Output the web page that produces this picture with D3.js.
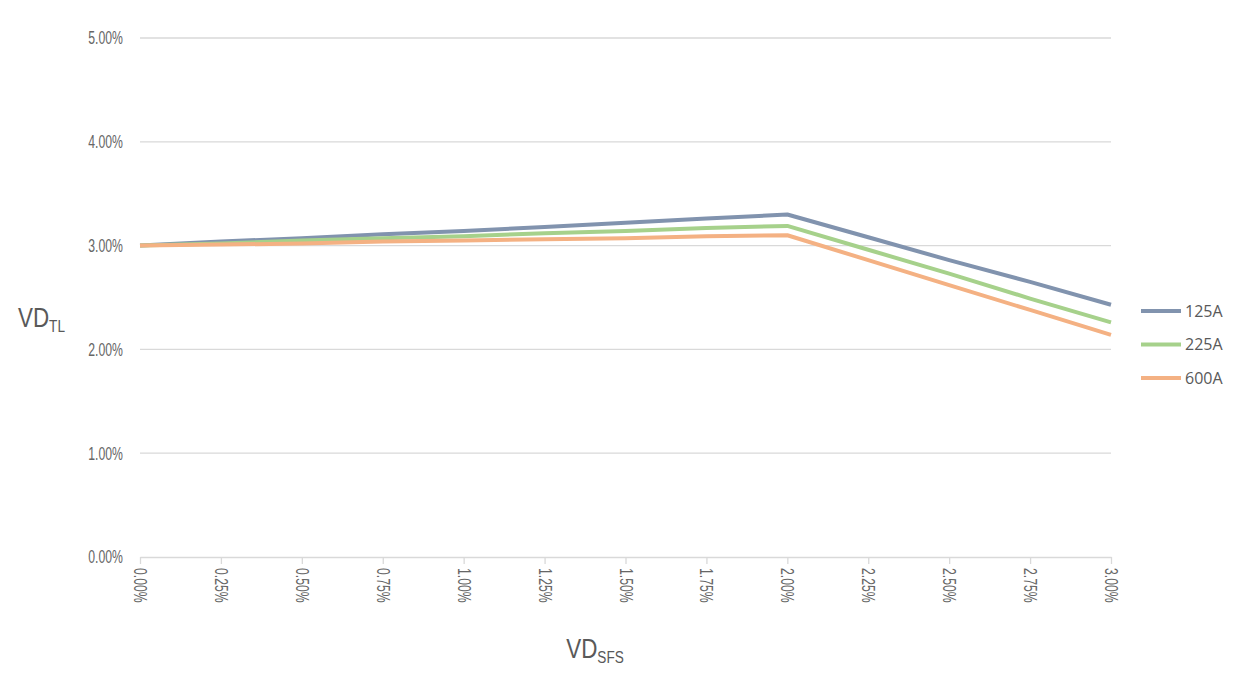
<!DOCTYPE html>
<html><head><meta charset="utf-8">
<script src="https://cdn.jsdelivr.net/npm/d3@7"></script>
<style>body{margin:0;background:#fff}</style>
</head><body>
<svg id="c" width="1239" height="679"></svg>
<script>
const xValues = [0, 0.25, 0.5, 0.75, 1.0, 1.25, 1.5, 1.75, 2.0, 2.25, 2.5, 2.75, 3.0];
const s125 = [3.00, 3.04, 3.07, 3.11, 3.14, 3.18, 3.22, 3.26, 3.30, 3.08, 2.86, 2.65, 2.43];
const s225 = [3.00, 3.02, 3.05, 3.07, 3.09, 3.12, 3.14, 3.17, 3.19, 2.96, 2.73, 2.49, 2.26];
const s600 = [3.00, 3.01, 3.02, 3.04, 3.05, 3.06, 3.07, 3.09, 3.10, 2.86, 2.62, 2.38, 2.14];
const seriesNames = ["125A", "225A", "600A"];
const yTicks = [0, 1, 2, 3, 4, 5];
const xTicks = [0, 0.25, 0.5, 0.75, 1.0, 1.25, 1.5, 1.75, 2.0, 2.25, 2.5, 2.75, 3.0];

const colors = ["#8193ae", "#a6d18b", "#f4b183"];
const series = [s125, s225, s600];
const svg = d3.select("#c");
const x = d3.scaleLinear().domain([0, 3]).range([140, 1111]);
const y = d3.scaleLinear().domain([0, 5]).range([557, 38]);
const tickFont = "'Liberation Sans','Arial',sans-serif";
const narrow = 0.68;

// gridlines
svg.append("g").selectAll("line").data(yTicks.filter(d => d > 0)).join("line")
  .attr("x1", 140).attr("x2", 1111).attr("y1", d => y(d)).attr("y2", d => y(d))
  .attr("stroke", "#d9d9d9").attr("stroke-width", 1.3);

// y labels
svg.append("g").selectAll("text").data(yTicks).join("text")
  .attr("transform", d => `translate(123,${y(d)}) scale(${narrow},1)`)
  .attr("dy", "0.36em").attr("text-anchor", "end")
  .attr("font-family", tickFont).attr("font-size", 18).attr("fill", "#666666")
  .text(d => d.toFixed(2) + "%");

// x axis
const xa = svg.append("g").attr("transform", `translate(0,${y(0)})`)
  .call(d3.axisBottom(x).tickValues(xTicks).tickSize(7).tickSizeOuter(0).tickFormat(d => d.toFixed(2) + "%"));
xa.select(".domain").attr("stroke", "#d9d9d9").attr("stroke-width", 1.3);
xa.selectAll(".tick line").attr("stroke", "#d9d9d9").attr("stroke-width", 1.3);
xa.selectAll(".tick text")
  .attr("font-family", tickFont).attr("font-size", 18).attr("fill", "#666666")
  .attr("text-anchor", "start").attr("transform", `rotate(90) scale(${narrow},1)`)
  .attr("x", 11 / narrow).attr("y", 0).attr("dy", "0.36em");

// lines
const line = d3.line().x((d, i) => x(xValues[i])).y(d => y(d));
series.forEach((s, k) => {
  svg.append("path").datum(s).attr("d", line).attr("fill", "none")
    .attr("stroke", colors[k]).attr("stroke-width", 4).attr("stroke-linejoin", "round").attr("stroke-linecap", "butt");
});

// legend
const lg = svg.append("g");
seriesNames.forEach((n, k) => {
  const yy = 311 + k * 33.5;
  lg.append("line").attr("x1", 1141).attr("x2", 1181).attr("y1", yy).attr("y2", yy)
    .attr("stroke", colors[k]).attr("stroke-width", 4);
  lg.append("text").attr("x", 1185).attr("y", yy).attr("dy", "0.36em")
    .attr("font-family", "'Open Sans','Liberation Sans',sans-serif").attr("font-size", 16).attr("fill", "#595959").text(n);
});

// axis titles
const yt = svg.append("text").attr("transform", `translate(18,327) scale(0.8,1)`)
  .attr("font-family", tickFont).attr("font-size", 28).attr("fill", "#595959");
yt.append("tspan").text("VD");
yt.append("tspan").attr("font-size", 17).attr("dy", 5).text("TL");

const xt = svg.append("text").attr("transform", `translate(595,658) scale(0.8,1)`).attr("text-anchor", "middle")
  .attr("font-family", tickFont).attr("font-size", 28).attr("fill", "#595959");
xt.append("tspan").text("VD");
xt.append("tspan").attr("font-size", 17).attr("dy", 5).text("SFS");
</script>
</body></html>
